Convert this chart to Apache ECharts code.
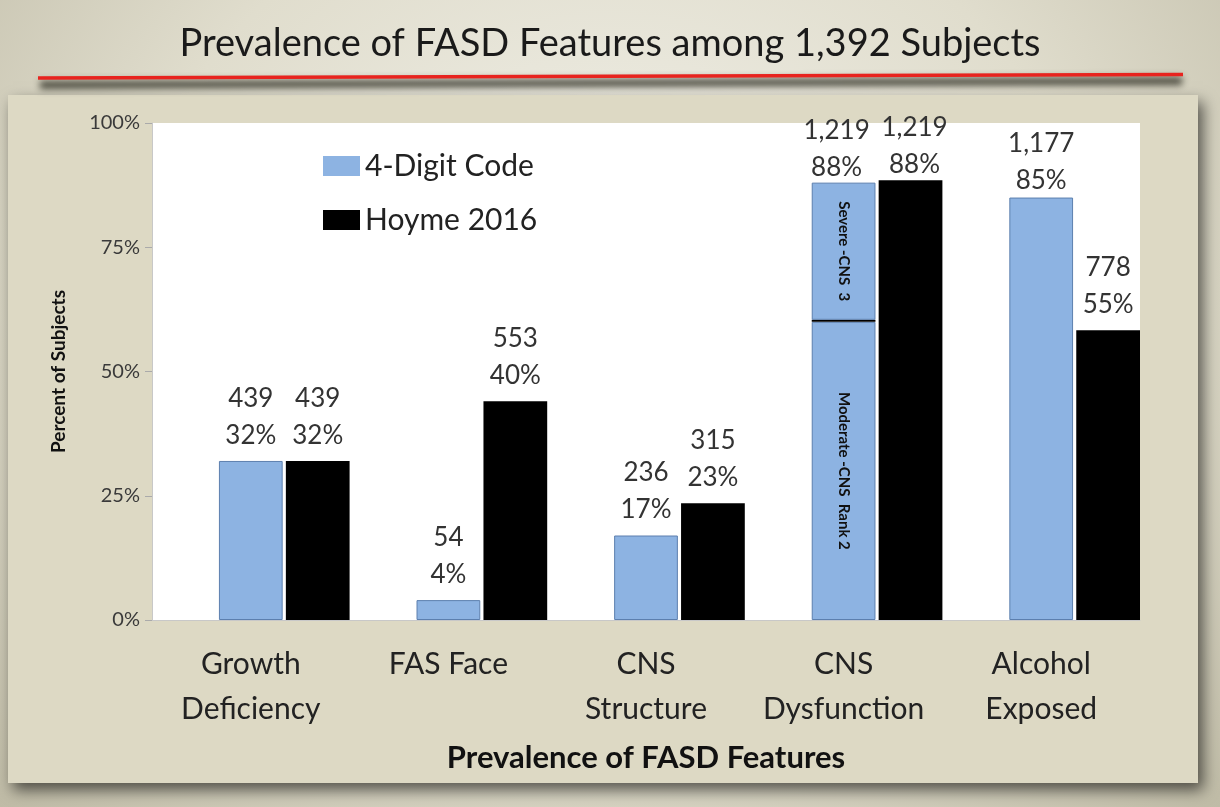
<!DOCTYPE html>
<html>
<head>
<meta charset="utf-8">
<script src="https://cdn.jsdelivr.net/npm/echarts@6/dist/echarts.min.js"></script>
<style>
  html, body { margin: 0; padding: 0; }
  body {
    width: 1220px; height: 807px; overflow: hidden;
    background: radial-gradient(ellipse at 50% 35%, #f2f1ea 0%, #e0ddcd 55%, #bfbba6 100%);
  }
  #chart { width: 1220px; height: 807px; }
</style>
</head>
<body>
<div id="chart"></div>
<script>
// categories along the x axis
const categories = ['Growth\nDeficiency', 'FAS Face', 'CNS\nStructure', 'CNS\nDysfunction', 'Alcohol\nExposed'];

// 4-Digit Code bar heights (%); CNS Dysfunction is split into moderate + severe
const fourDigitBase = [32, 4, 17, 60, 85];
const severeDivider = [null, null, null, 0.4, null];
const fourDigitSevere = [null, null, null, 27.6, null];
const fourDigitCounts = ['439', '54', '236', '1,219', '1,177'];
const fourDigitPct = ['32%', '4%', '17%', '88%', '85%'];
const splitLabels = ['Moderate -CNS  Rank 2', 'Severe -CNS  3'];

// Hoyme 2016 bar heights (%)
const hoyme = [32, 44, 23.5, 88.5, 58.3];
const hoymeCounts = ['439', '553', '315', '1,219', '778'];
const hoymePct = ['32%', '40%', '23%', '88%', '55%'];

// empty slot on the left of each category, like the original chart
const spacer = [null, null, null, null, null];

const FONT = 'Lato';
const BLUE = '#8db3e2';
const BLUE_EDGE = '#5c7fae';

const chart = echarts.init(document.getElementById('chart'), null, {renderer: 'canvas'});

// two-line "count / percent" label above a bar
const topLabel = (counts, pct, dx, dist) => ({
    show: true,
    position: 'top',
    distance: dist == null ? 7 : dist,
    offset: [dx || 0, 0],
    fontFamily: FONT,
    fontSize: 26,
    lineHeight: 37,
    color: '#333',
    formatter: p => counts[p.dataIndex] + '\n' + pct[p.dataIndex]
});

// rotated text inside the split bar
const innerLabel = text => ({
    show: true, position: 'inside', rotate: -90,
    fontFamily: FONT, fontSize: 15, fontWeight: 'bold', color: '#111',
    formatter: text
});

// labels near the top of the plot sit a little closer to their bars
const tallBar = v => v > 80;

const option = {
    backgroundColor: 'transparent',
    animation: false,
    title: {
        text: 'Prevalence of FASD Features among 1,392 Subjects',
        left: 'center',
        top: 20,
        textStyle: {fontFamily: FONT, fontSize: 38, fontWeight: 'normal', color: '#1a1a1a'}
    },
    graphic: [
        {
            // soft grey shadow under the red rule (shape kept off screen, only its shadow shows)
            type: 'polygon', z: -11,
            shape: {points: [[40, -1000 + 81], [1182, -1000 + 77], [1182, -1000 + 85], [40, -1000 + 89]]},
            style: {fill: '#555', shadowBlur: 7, shadowOffsetY: 1000, shadowColor: 'rgba(50,50,40,0.85)'}
        },
        {
            type: 'line', z: -10,
            shape: {x1: 38, y1: 78, x2: 1183, y2: 74.5},
            style: {stroke: '#e8231e', lineWidth: 3.5}
        },
        {
            type: 'rect', z: -12,
            shape: {x: 8, y: 95, width: 1190, height: 688},
            style: {fill: '#ddd9c4', shadowBlur: 14, shadowOffsetX: 5, shadowOffsetY: 7, shadowColor: 'rgba(0,0,0,0.6)'}
        }
    ],
    legend: {
        orient: 'vertical',
        left: 318,
        top: 145,
        itemWidth: 37,
        itemHeight: 20,
        itemGap: 22,
        icon: 'rect',
        itemStyle: {borderWidth: 0},
        data: ['4-Digit Code', 'Hoyme 2016'],
        textStyle: {fontFamily: FONT, fontSize: 30, lineHeight: 32, color: '#222'}
    },
    grid: {
        left: 152, right: 80, top: 123, bottom: 187,
        show: true, backgroundColor: '#ffffff', borderWidth: 0
    },
    xAxis: {
        type: 'category',
        data: categories,
        name: 'Prevalence of FASD Features',
        nameLocation: 'middle',
        nameGap: 122,
        nameTextStyle: {fontFamily: FONT, fontSize: 31, fontWeight: 'bold', color: '#111'},
        axisLine: {lineStyle: {color: '#c8c8c8'}},
        axisTick: {show: false},
        axisLabel: {interval: 0, fontFamily: FONT, fontSize: 30, lineHeight: 45, color: '#222', margin: 22}
    },
    yAxis: {
        type: 'value',
        min: 0, max: 100, interval: 25,
        name: 'Percent of Subjects',
        nameLocation: 'middle',
        nameGap: 84,
        nameTextStyle: {fontFamily: FONT, fontSize: 19, fontWeight: 'bold', color: '#111'},
        axisLine: {show: true, lineStyle: {color: '#c8c8c8'}},
        axisTick: {show: true, length: 7, lineStyle: {color: '#aaa'}},
        splitLine: {show: false},
        axisLabel: {fontFamily: FONT, fontSize: 20, color: '#3a3a3a', margin: 12, formatter: '{value}%'}
    },
    series: [
        {
            name: 'spacer', type: 'bar', data: spacer,
            barGap: '5%', barCategoryGap: '0%'
        },
        {
            name: '4-Digit Code', type: 'bar', stack: 'blue',
            data: fourDigitBase.map((v, i) => {
                if (fourDigitSevere[i] != null) return {value: v, label: innerLabel(splitLabels[0])};
                if (tallBar(v)) return {value: v, label: topLabel(fourDigitCounts, fourDigitPct, 0, -2)};
                return v;
            }),
            itemStyle: {color: BLUE, borderColor: BLUE_EDGE, borderWidth: 1},
            label: topLabel(fourDigitCounts, fourDigitPct)
        },
        {
            name: 'divider', type: 'bar', stack: 'blue', data: severeDivider,
            itemStyle: {color: '#000'}
        },
        {
            name: 'severe', type: 'bar', stack: 'blue',
            data: fourDigitSevere.map(v => v == null ? v : {value: v, label: innerLabel(splitLabels[1])}),
            itemStyle: {color: BLUE, borderColor: BLUE_EDGE, borderWidth: 1}
        },
        {
            // zero-height cap carrying the top label of the split bar
            name: 'severeCap', type: 'bar', stack: 'blue',
            data: fourDigitSevere.map(v => v == null ? null : 0),
            label: topLabel(fourDigitCounts, fourDigitPct, -7, -3)
        },
        {
            name: 'Hoyme 2016', type: 'bar',
            data: hoyme.map((v, i) => fourDigitSevere[i] == null ? v : {value: v, label: topLabel(hoymeCounts, hoymePct, 4, -3)}),
            itemStyle: {color: '#000'},
            label: topLabel(hoymeCounts, hoymePct)
        }
    ]
};

chart.setOption(option);
</script>
</body>
</html>
